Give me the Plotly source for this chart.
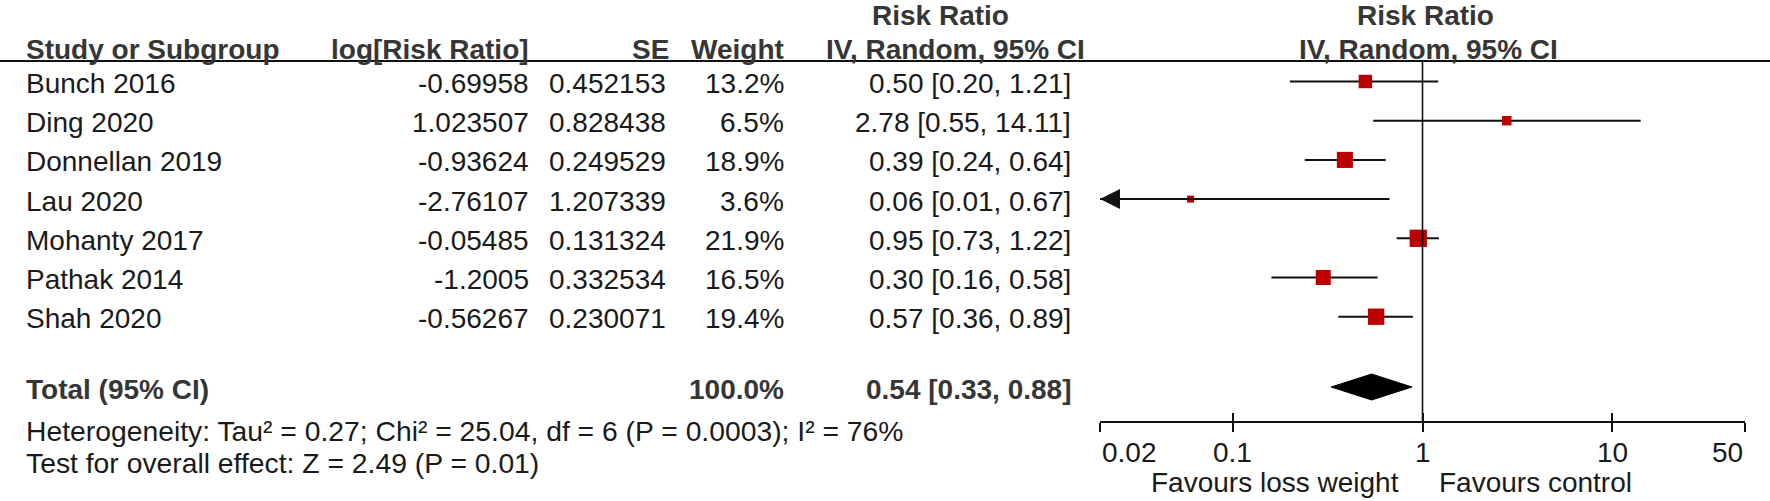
import math
import plotly.graph_objects as go

# ---------------- data ----------------
studies = ["Bunch 2016", "Ding 2020", "Donnellan 2019", "Lau 2020",
           "Mohanty 2017", "Pathak 2014", "Shah 2020"]
log_rr = ["-0.69958", "1.023507", "-0.93624", "-2.76107", "-0.05485", "-1.2005", "-0.56267"]
se = ["0.452153", "0.828438", "0.249529", "1.207339", "0.131324", "0.332534", "0.230071"]
weight = [13.2, 6.5, 18.9, 3.6, 21.9, 16.5, 19.4]
rr = [0.50, 2.78, 0.39, 0.06, 0.95, 0.30, 0.57]
ci_lo = [0.20, 0.55, 0.24, 0.01, 0.73, 0.16, 0.36]
ci_hi = [1.21, 14.11, 0.64, 0.67, 1.22, 0.58, 0.89]

total_weight = 100.0
total_rr, total_lo, total_hi = 0.54, 0.33, 0.88
heterogeneity = "Heterogeneity: Tau² = 0.27; Chi² = 25.04, df = 6 (P = 0.0003); I² = 76%"
overall = "Test for overall effect: Z = 2.49 (P = 0.01)"

tick_vals = [0.02, 0.1, 1, 10, 50]
tick_text = ["0.02", "0.1", "1", "10", "50"]
axis_min, axis_max = 0.02, 50
favours_left = "Favours loss weight"
favours_right = "Favours control"

# ---------------- layout constants ----------------
W, H = 1770, 501
FONT = "Liberation Sans, Arial, sans-serif"
FS = 28
TXT = "#1a1a1a"
HDR = "#363636"
ROW0 = 81.5      # pixel of first study row
ROWH = 39.2      # pixel per row
AXIS_PX = 421.7  # pixel of the x-axis line
X0_PX, X1_PX = 1100, 1745

def px2row(p):
    return (p - ROW0) / ROWH

y_top = px2row(0)
y_bot = px2row(H)
TEXT_DY = 2 / ROWH

rows = list(range(len(studies)))
total_row = px2row(387)
het_row = px2row(431)
test_row = px2row(463)
header_row = px2row(61)
axis_row = px2row(AXIS_PX)

fig = go.Figure()

# confidence-interval lines
for i in rows:
    lo = max(ci_lo[i], axis_min)
    fig.add_trace(go.Scatter(x=[lo, ci_hi[i]], y=[i, i], mode="lines",
                             line=dict(color="#111111", width=2),
                             hoverinfo="skip", showlegend=False))

# arrow for CIs that run past the axis
for i in rows:
    if ci_lo[i] < axis_min:
        fig.add_annotation(x=math.log10(axis_min), y=i, ax=math.log10(ci_hi[i]), ay=i,
                           xref="x", yref="y", axref="x", ayref="y",
                           showarrow=True, arrowhead=2, arrowsize=2.0, arrowwidth=2,
                           arrowcolor="#111111", standoff=0, text="")

# study squares (area proportional to weight)
fig.add_trace(go.Scatter(x=rr, y=rows, mode="markers",
                         marker=dict(symbol="square", color="#bb0000", opacity=1,
                                     size=[3.7 * math.sqrt(w) for w in weight],
                                     line=dict(width=0)),
                         hoverinfo="skip", showlegend=False))

# pooled diamond
dh = 13 / ROWH
fig.add_trace(go.Scatter(x=[total_lo, total_rr, total_hi, total_rr, total_lo],
                         y=[total_row, total_row - dh, total_row, total_row + dh, total_row],
                         mode="lines", fill="toself", fillcolor="#000000",
                         line=dict(color="#000000", width=1),
                         hoverinfo="skip", showlegend=False))

# line of no effect
fig.add_trace(go.Scatter(x=[1, 1], y=[header_row, axis_row], mode="lines",
                         line=dict(color="#111111", width=1.6),
                         hoverinfo="skip", showlegend=False))

# second x-axis only for the inward half of the ticks
fig.add_trace(go.Scatter(x=[axis_min, axis_max], y=[None, None], xaxis="x2",
                         mode="lines", hoverinfo="skip", showlegend=False))

def ann(text, xpx, row, anchor="left", bold=False, color=TXT, size=FS):
    if bold:
        text = "<b>" + text + "</b>"
    fig.add_annotation(x=xpx / W, y=row, xref="paper", yref="y", text=text,
                       showarrow=False, xanchor=anchor, yanchor="middle",
                       font=dict(family=FONT, size=size, color=color))

# header
hdr2 = px2row(49)
hdr1 = px2row(15)
ann("Study or Subgroup", 24, hdr2, bold=True, color=HDR)
ann("log[Risk Ratio]", 531, hdr2, anchor="right", bold=True, color=HDR)
ann("SE", 671, hdr2, anchor="right", bold=True, color=HDR)
ann("Weight", 786, hdr2, anchor="right", bold=True, color=HDR)
ann("Risk Ratio", 940, hdr1, anchor="center", bold=True, color=HDR)
ann("IV, Random, 95% CI", 955, hdr2, anchor="center", bold=True, color=HDR)
ann("Risk Ratio", 1425, hdr1, anchor="center", bold=True, color=HDR)
ann("IV, Random, 95% CI", 1428, hdr2, anchor="center", bold=True, color=HDR)

# study rows
for i in rows:
    y = i + TEXT_DY
    ann(studies[i], 24, y)
    ann(log_rr[i], 531, y, anchor="right")
    ann(se[i], 668, y, anchor="right")
    ann(f"{weight[i]:.1f}%", 786, y, anchor="right")
    ann(f"{rr[i]:.2f} [{ci_lo[i]:.2f}, {ci_hi[i]:.2f}]", 1073, y, anchor="right")

# total
ann("Total (95% CI)", 24, total_row + TEXT_DY, bold=True, color=HDR)
ann(f"{total_weight:.1f}%", 786, total_row + TEXT_DY, anchor="right", bold=True, color=HDR)
ann(f"{total_rr:.2f} [{total_lo:.2f}, {total_hi:.2f}]", 1073, total_row + TEXT_DY,
    anchor="right", bold=True, color=HDR)
ann(heterogeneity, 24, het_row, size=28.3)
ann(overall, 24, test_row, size=28.3)

# tick labels (end labels kept inside the axis, as in RevMan)
tick_row = px2row(452)
for k, (v, t) in enumerate(zip(tick_vals, tick_text)):
    anchor = "left" if k == 0 else ("right" if k == len(tick_vals) - 1 else "center")
    fig.add_annotation(x=math.log10(v), y=tick_row, xref="x", yref="y", text=t,
                       showarrow=False, xanchor=anchor, yanchor="middle",
                       font=dict(family=FONT, size=FS, color=TXT))

# favours labels
fav_row = px2row(482)
fig.add_annotation(x=math.log10(1), y=fav_row, xref="x", yref="y", text=favours_left,
                   showarrow=False, xanchor="right", xshift=-22,
                   font=dict(family=FONT, size=FS, color=TXT))
fig.add_annotation(x=math.log10(1), y=fav_row, xref="x", yref="y", text=favours_right,
                   showarrow=False, xanchor="left", xshift=14,
                   font=dict(family=FONT, size=FS, color=TXT))

# header rule
fig.add_shape(type="line", xref="paper", yref="y", x0=0, x1=1, y0=header_row, y1=header_row,
              line=dict(color="#111111", width=2))

xr = [math.log10(axis_min), math.log10(axis_max)]
axis_pos = (H - AXIS_PX) / H
fig.update_layout(
    width=W, height=H, margin=dict(l=0, r=0, t=0, b=0),
    paper_bgcolor="white", plot_bgcolor="white",
    xaxis=dict(type="log", range=xr, domain=[X0_PX / W, X1_PX / W],
               anchor="free", position=axis_pos,
               showgrid=False, zeroline=False, showline=True, linecolor="#111111",
               linewidth=2, ticks="outside", ticklen=9, tickwidth=2, tickcolor="#111111",
               tickvals=tick_vals, showticklabels=False, fixedrange=True),
    xaxis2=dict(type="log", range=xr, domain=[X0_PX / W, X1_PX / W], overlaying="x",
                anchor="free", position=axis_pos, side="bottom",
                showgrid=False, zeroline=False, showline=False,
                ticks="inside", ticklen=9, tickwidth=2, tickcolor="#111111",
                tickvals=tick_vals, showticklabels=False),
    yaxis=dict(range=[y_bot, y_top], domain=[0, 1], visible=False,
               showgrid=False, zeroline=False, fixedrange=True),
)

fig.write_html("out.html", config={"displayModeBar": False},
               post_script="document.body.style.margin='0';document.body.style.overflow='hidden';")
